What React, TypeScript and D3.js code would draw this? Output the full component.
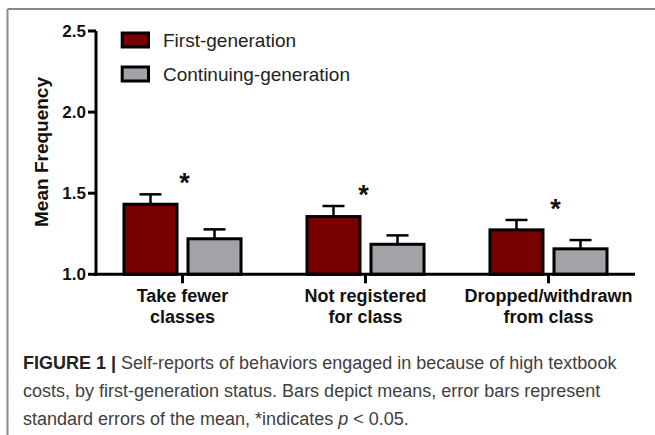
import React from "react";
import * as d3 from "d3";

const categories = [
  ["Take fewer", "classes"],
  ["Not registered", "for class"],
  ["Dropped/withdrawn", "from class"],
];
const seriesNames = ["First-generation", "Continuing-generation"];
const firstGenMeans = [1.432, 1.356, 1.274];
const firstGenSE = [0.061, 0.065, 0.061];
const contGenMeans = [1.219, 1.185, 1.157];
const contGenSE = [0.058, 0.055, 0.054];
const yTicks = [1.0, 1.5, 2.0, 2.5];
const significant = [true, true, true];
const sigOffsets = [2, -2, 7];
const captionBold = "FIGURE 1 |";
const captionLines = [
  " Self-reports of behaviors engaged in because of high textbook",
  "costs, by first-generation status. Bars depict means, error bars represent",
  "standard errors of the mean, *indicates ",
];

const W = 655;
const H = 435;
const FONT = "'Liberation Sans', Arial, Helvetica, sans-serif";
const RED = "#780000";
const GRAY = "#a2a2a7";

export default function App() {
  const catKeys = categories.map((c) => c.join(" "));
  const x0 = d3
    .scaleBand<string>()
    .domain(catKeys)
    .range([96, 635])
    .paddingInner(0.344)
    .paddingOuter(0.1447);
  const x1 = d3
    .scaleBand<string>()
    .domain(seriesNames)
    .range([0, x0.bandwidth()])
    .paddingInner(0.125)
    .paddingOuter(0);
  const y = d3.scaleLinear().domain([1, 2.5]).range([274.3, 31]);

  const series = [
    { name: seriesNames[0], means: firstGenMeans, se: firstGenSE, color: RED },
    { name: seriesNames[1], means: contGenMeans, se: contGenSE, color: GRAY },
  ];
  const sw = 3;
  const capW = 22;

  return (
    <svg
      width={W}
      height={H}
      style={{ position: "absolute", left: 0, top: 0, background: "#fff" }}
      fontFamily={FONT}
    >
      <rect x={0} y={0} width={W} height={H} fill="#fff" />
      {/* frame */}
      <line x1={7.5} y1={9} x2={W} y2={9} stroke="#8a8a8a" strokeWidth={2} />
      <line x1={7.5} y1={9} x2={7.5} y2={H} stroke="#8a8a8a" strokeWidth={2} />

      {/* y-axis title */}
      <text
        transform={`translate(48, 152) rotate(-90)`}
        textAnchor="middle"
        fontWeight="bold"
        fontSize={19}
        fill="#111"
      >
        Mean Frequency
      </text>

      {/* bars */}
      {categories.map((c, i) => {
        const key = catKeys[i];
        const gx = x0(key)!;
        return (
          <g key={key}>
            {series.map((s) => {
              const bx = gx + x1(s.name)!;
              const bw = x1.bandwidth();
              const top = y(s.means[i]);
              const cx = bx + bw / 2;
              const ey = y(s.means[i] + s.se[i]);
              return (
                <g key={s.name}>
                  <line x1={cx} x2={cx} y1={top} y2={ey} stroke="#000" strokeWidth={2.5} />
                  <line
                    x1={cx - capW / 2}
                    x2={cx + capW / 2}
                    y1={ey}
                    y2={ey}
                    stroke="#000"
                    strokeWidth={2.5}
                  />
                  <rect
                    x={bx + sw / 2}
                    y={top}
                    width={bw - sw}
                    height={y(1) - top}
                    fill={s.color}
                    stroke="#000"
                    strokeWidth={sw}
                  />
                </g>
              );
            })}
            {significant[i] && (
              <text
                x={gx + x0.bandwidth() / 2 + sigOffsets[i]}
                y={y(firstGenMeans[i] + firstGenSE[i]) - 2}
                textAnchor="middle"
                fontWeight="bold"
                fontSize={27}
                fill="#111"
              >
                *
              </text>
            )}
          </g>
        );
      })}

      {/* axes */}
      <line x1={96} x2={96} y1={y(2.5)} y2={y(1) + 1.5} stroke="#000" strokeWidth={3} />
      <line x1={94.5} x2={635} y1={y(1)} y2={y(1)} stroke="#000" strokeWidth={3} />
      {yTicks.map((t) => (
        <g key={t}>
          <line x1={88} x2={96} y1={y(t)} y2={y(t)} stroke="#000" strokeWidth={3} />
          <text
            x={86}
            y={y(t) + 6}
            textAnchor="end"
            fontWeight="bold"
            fontSize={17}
            fill="#111"
          >
            {t.toFixed(1)}
          </text>
        </g>
      ))}
      {categories.map((c, i) => {
        const cx = x0(catKeys[i])! + x0.bandwidth() / 2;
        return (
          <g key={catKeys[i]}>
            <line x1={cx} x2={cx} y1={y(1)} y2={y(1) + 9} stroke="#000" strokeWidth={3} />
            {c.map((ln, j) => (
              <text
                key={j}
                x={cx}
                y={302 + j * 20.5}
                textAnchor="middle"
                fontWeight="bold"
                fontSize={18}
                fill="#111"
              >
                {ln}
              </text>
            ))}
          </g>
        );
      })}

      {/* legend */}
      {series.map((s, i) => (
        <g key={s.name} transform={`translate(0, ${40 + i * 34})`}>
          <rect x={122.2} y={-7} width={26.3} height={14} fill={s.color} stroke="#000" strokeWidth={3} />
          <text x={163} y={7} fontSize={19} fill="#222">
            {s.name}
          </text>
        </g>
      ))}

      {/* caption */}
      <text x={23} y={369} fontSize={18} fill="#404040">
        <tspan fontWeight="bold" fill="#222">
          {captionBold}
        </tspan>
        <tspan>{captionLines[0]}</tspan>
      </text>
      <text x={23} y={397} fontSize={18} fill="#404040">
        {captionLines[1]}
      </text>
      <text x={23} y={425} fontSize={18} fill="#404040">
        {captionLines[2]}
        <tspan fontStyle="italic">p</tspan>
        {" < 0.05."}
      </text>
    </svg>
  );
}
